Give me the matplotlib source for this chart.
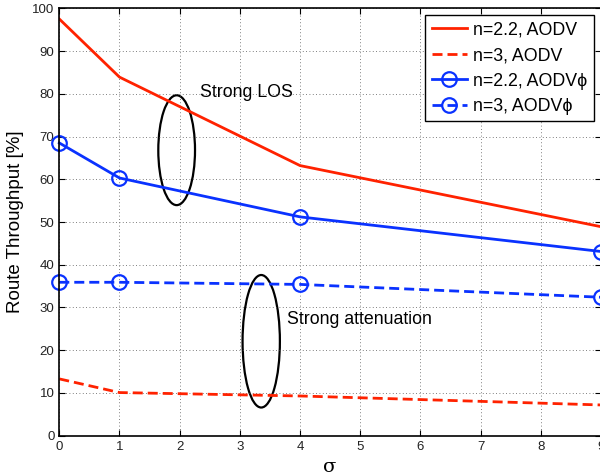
import matplotlib
matplotlib.use("Agg")
import matplotlib.pyplot as plt
from matplotlib.patches import Ellipse

plt.rcParams['font.family'] = ['Liberation Sans', 'DejaVu Sans']

# Shadowing standard deviation values
sigma = [0, 1, 4, 9]

# Route throughput [%]
aodv_n22 = [97.5, 83.9, 63.2, 48.9]
aodv_n3 = [13.3, 10.1, 9.3, 7.2]
aodvphi_n22 = [68.5, 60.3, 51.2, 43.1]
aodvphi_n3 = [35.9, 35.9, 35.4, 32.4]

xticks = list(range(0, 10))
yticks = list(range(0, 101, 10))

labels = ['n=2.2, AODV', 'n=3, AODV', 'n=2.2, AODV\u03d5', 'n=3, AODV\u03d5']

red = '#ff2200'
blue = '#0a32ff'

fig = plt.figure(figsize=(6.0, 4.76), dpi=100)
ax = fig.add_axes([0.0988, 0.0846, 1.0017 - 0.0988, 0.9826 - 0.0846])

lw = 2.0
ax.plot(sigma, aodv_n22, color=red, lw=lw, label=labels[0])
ax.plot(sigma, aodv_n3, color=red, lw=lw, dashes=(3.6, 1.8), label=labels[1])
ax.plot(sigma, aodvphi_n22, color=blue, lw=lw, marker='o', ms=10.5,
        mfc='none', mec=blue, mew=1.6, label=labels[2], clip_on=False)
ax.plot(sigma, aodvphi_n3, color=blue, lw=lw, dashes=(3.6, 1.8), marker='o',
        ms=10.5, mfc='none', mec=blue, mew=1.6, label=labels[3], clip_on=False)

# Annotation ellipses
ax.add_patch(Ellipse((1.95, 66.8), 0.61, 25.7, fill=False, ec='black', lw=1.6))
ax.add_patch(Ellipse((3.355, 22.1), 0.62, 31.0, fill=False, ec='black', lw=1.6))
ax.text(2.34, 80.2, 'Strong LOS', fontsize=12.8, va='center', ha='left')
ax.text(3.78, 27.2, 'Strong attenuation', fontsize=12.8, va='center', ha='left')

ax.set_xlim(0, 9)
ax.set_ylim(0, 100)
ax.set_xticks(xticks)
ax.set_yticks(yticks)
ax.tick_params(direction='in', top=True, right=True, labelsize=9.5,
               length=4, width=0.8, colors='black', labelcolor='#222222')
ax.grid(True, linestyle=(0, (1, 3)), color='#555555', lw=0.6)

for s in ax.spines.values():
    s.set_linewidth(1.2)

ax.set_xlabel('\u03c3', fontsize=14, family='DejaVu Serif', labelpad=4)
ax.set_ylabel('Route Throughput [%]', fontsize=13.5, labelpad=6)

leg = ax.legend(loc='upper right', fontsize=12.8, fancybox=False,
                framealpha=1, edgecolor='black', borderpad=0.35,
                labelspacing=0.48, handlelength=2.0, handletextpad=0.35,
                borderaxespad=0.4)
leg.get_frame().set_linewidth(1.0)

fig.savefig('out.png', dpi=100)
